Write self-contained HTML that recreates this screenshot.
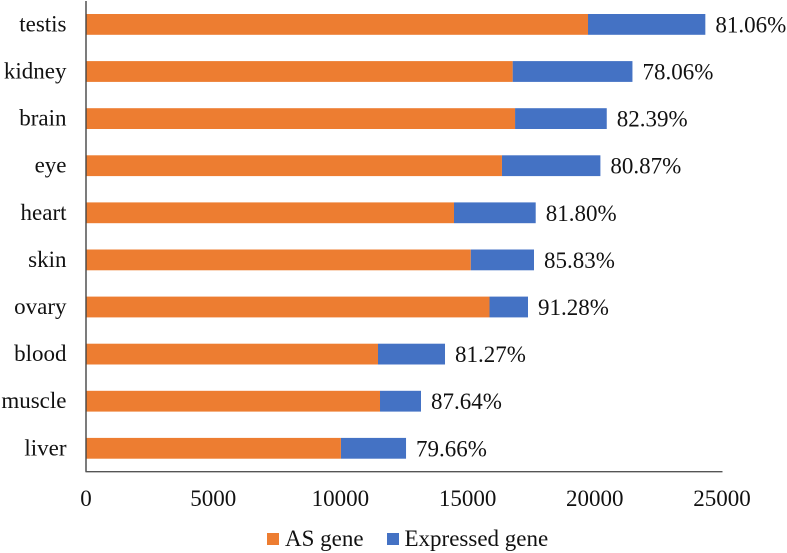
<!DOCTYPE html>
<html>
<head>
<meta charset="utf-8">
<style>
html,body{margin:0;padding:0;background:#fff;width:787px;height:553px;overflow:hidden}
svg{display:block;filter:blur(0.35px)}
text{font-family:"Liberation Serif",serif;font-size:23px;fill:#111}
</style>
</head>
<body>
<svg id="chart" width="787" height="553" viewBox="0 0 787 553" xmlns="http://www.w3.org/2000/svg">
<g id="bars"></g>
<g id="category-labels"></g>
<g id="percent-labels"></g>
<line x1="86" y1="1" x2="86" y2="472" stroke="#444" stroke-width="1.4"/>
<line x1="85.5" y1="471.7" x2="722.5" y2="471.7" stroke="#555" stroke-width="1.4"/>
<g id="x-ticks"></g>
<g>
<g>
<rect x="267" y="533" width="12" height="12" fill="#ed7d31"/>
<text x="285" y="546">AS gene</text>
</g>
<g>
<rect x="387" y="533" width="12" height="12" fill="#4472c4"/>
<text x="404.5" y="546">Expressed gene</text>
</g>
</g>
</svg>
<script>
const categories = ["testis","kidney","brain","eye","heart","skin","ovary","blood","muscle","liver"];
const asGene = [19733,16770,16865,16350,14465,15122,15861,11478,11557,10020];
const expressedTotal = [24345,21480,20470,20220,17677,17610,17374,14112,13168,12580];
const percentLabels = ["81.06%","78.06%","82.39%","80.87%","81.80%","85.83%","91.28%","81.27%","87.64%","79.66%"];
const xTicks = [0,5000,10000,15000,20000,25000];

const NS = "http://www.w3.org/2000/svg";
const plotLeft = 86, plotRight = 722, xMax = 25000;
const firstBarTop = 14, barStep = 47.1, barHeight = 20.8;
function xScale(v){ return plotLeft + v / xMax * (plotRight - plotLeft); }
function yBand(i){ return firstBarTop + i * barStep; }
function make(tag, attrs, text){
  const el = document.createElementNS(NS, tag);
  for (const k in attrs) el.setAttribute(k, attrs[k]);
  if (text !== undefined) el.textContent = text;
  return el;
}
const barsG = document.getElementById("bars");
const catG = document.getElementById("category-labels");
const pctG = document.getElementById("percent-labels");
const tickG = document.getElementById("x-ticks");

categories.forEach(function(cat, i){
  const y = yBand(i);
  const mid = y + barHeight / 2;
  const blue = make("rect", {x: xScale(asGene[i]), y: y, width: xScale(expressedTotal[i]) - xScale(asGene[i]), height: barHeight, fill: "#4472c4"});
  
  
  barsG.appendChild(blue);
  const orange = make("rect", {x: xScale(0), y: y, width: xScale(asGene[i]) - xScale(0), height: barHeight, fill: "#ed7d31"});
  
  
  barsG.appendChild(orange);
  const label = make("text", {x: 66.5, y: mid + 7, "text-anchor": "end"}, cat);
  
  
  catG.appendChild(label);
  const pct = make("text", {x: xScale(expressedTotal[i]) + 10, y: mid + 8}, percentLabels[i]);
  
  
  pctG.appendChild(pct);
});
xTicks.forEach(function(t){
  const tick = make("text", {x: xScale(t), y: 506, "text-anchor": "middle"}, String(t));
  
  
  tickG.appendChild(tick);
});
</script>
</body>
</html>
